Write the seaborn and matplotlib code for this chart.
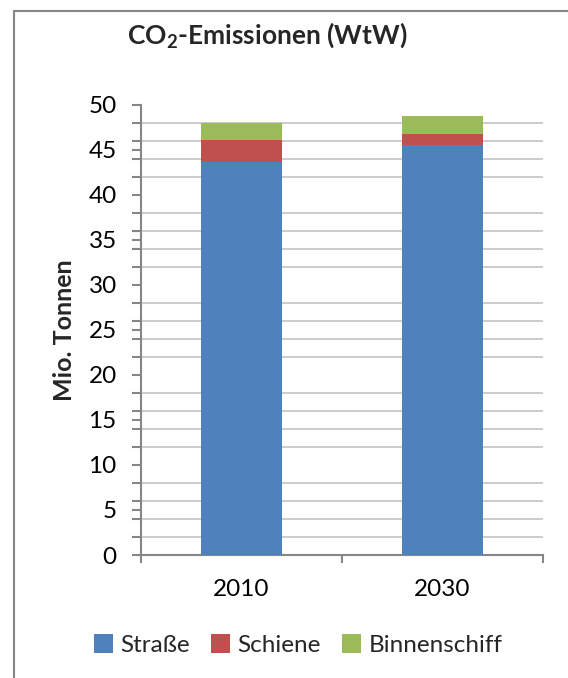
import matplotlib
matplotlib.use("Agg")
import matplotlib.pyplot as plt
from matplotlib.patches import Patch, Rectangle
from matplotlib.ticker import MultipleLocator, FixedLocator
import seaborn as sns
import pandas as pd

# Data (million tonnes CO2, well-to-wheel)
years = ["2010", "2030"]
strasse = [43.6, 45.5]
schiene = [2.5, 1.3]
binnenschiff = [1.9, 1.9]

series_names = ["Straße", "Schiene", "Binnenschiff"]
colors = ["#4F81BD", "#C0504D", "#9BBB59"]

sns.set_theme(style="white")
plt.rcParams["font.family"] = ["Lato", "DejaVu Sans"]
plt.rcParams["mathtext.fontset"] = "custom"
plt.rcParams["mathtext.rm"] = "Lato"
plt.rcParams["mathtext.bf"] = "Lato:bold"

df = pd.DataFrame({
    "Jahr": years,
    "Straße": strasse,
    "Schiene": schiene,
    "Binnenschiff": binnenschiff,
})
# cumulative heights for stacking (drawn from tallest to shortest)
df["top_schiene"] = df["Straße"] + df["Schiene"]
df["top_binnen"] = df["top_schiene"] + df["Binnenschiff"]

fig = plt.figure(figsize=(5.68, 6.78), dpi=100)
ax = fig.add_axes([141 / 568, 1 - 555 / 678, (543 - 141) / 568, (555 - 104.7) / 678])

for col, c in zip(["top_binnen", "top_schiene", "Straße"], colors[::-1]):
    sns.barplot(data=df, x="Jahr", y=col, color=c, width=0.4, ax=ax,
                saturation=1, linewidth=0, zorder=3)

ax.set_xlim(-0.5, 1.5)
ax.set_ylim(0, 50)
ax.set_xlabel("")
ax.set_ylabel("")

grid_c = "#BEBEBE"
spine_c = "#868686"
fs = 17.5

# horizontal gridlines every 2 units, labels every 5
ax.yaxis.set_major_locator(MultipleLocator(5))
ax.yaxis.set_minor_locator(MultipleLocator(2))
ax.grid(False)
ax.grid(True, which="minor", axis="y", color=grid_c, linewidth=1.1, zorder=0)
ax.set_axisbelow(True)

ax.xaxis.set_minor_locator(FixedLocator([-0.5, 0.5, 1.5]))

for s in ["top", "right"]:
    ax.spines[s].set_visible(False)
for s in ["left", "bottom"]:
    ax.spines[s].set_color(spine_c)
    ax.spines[s].set_linewidth(1.5)

ax.tick_params(axis="y", which="both", left=True, length=6.5, width=1.5,
               color=spine_c, direction="out")
ax.tick_params(axis="y", which="major", labelsize=fs, pad=11, labelcolor="black")
ax.tick_params(axis="x", which="major", length=0, labelsize=fs, pad=17,
               labelcolor="black")
ax.tick_params(axis="x", which="minor", bottom=True, length=6, width=1.5,
               color=spine_c, direction="out")

# title with subscript
fig.text(267.5 / 568, 1 - 43 / 678, r"$\mathbf{CO}_\mathbf{2}$-Emissionen (WtW)",
         ha="center", va="baseline", fontsize=19, fontweight="bold")

fig.text(64 / 568, 1 - 330 / 678, "Mio. Tonnen", rotation=90, ha="center",
         va="center", fontsize=18, fontweight="bold")

handles = [Patch(facecolor=c, edgecolor="none", label=n)
           for c, n in zip(colors, series_names)]
fig.legend(handles=handles, loc="center", bbox_to_anchor=(298 / 568, 1 - 645 / 678),
           ncol=3, frameon=False, fontsize=fs, handlelength=0.8,
           handleheight=0.8, handletextpad=0.3, columnspacing=0.85)

# outer chart frame
fig.patches.append(Rectangle((14 / 568, -0.2), 1.5, 0.2 + 1 - 11 / 678,
                             transform=fig.transFigure, fill=False,
                             edgecolor=spine_c, linewidth=1.5))

fig.savefig("out.png", dpi=100)
